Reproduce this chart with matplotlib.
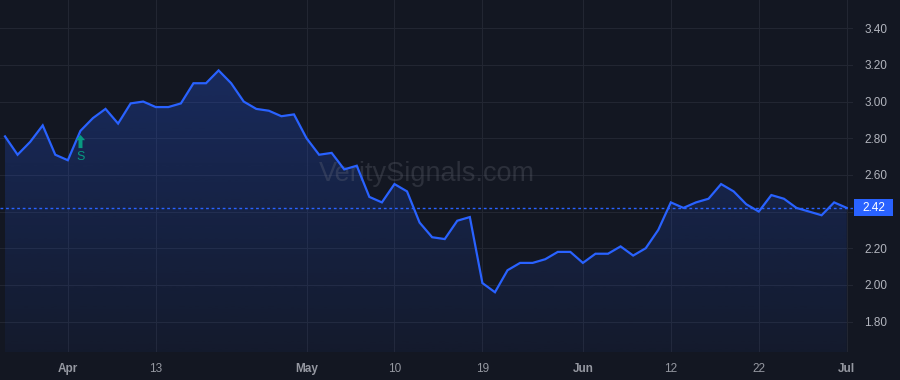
import matplotlib

matplotlib.use("Agg")
import matplotlib.pyplot as plt
import numpy as np
from matplotlib.patches import Polygon, Rectangle
from matplotlib.path import Path
from matplotlib.transforms import blended_transform_factory

BG = "#131722"
GRID = "#222632"
LINE = "#2962ff"
TEXT = "#b2b5be"
SIGNAL = "#089981"

prices = [2.81, 2.71, 2.78, 2.87, 2.71, 2.68, 2.84, 2.91, 2.96, 2.88,
          2.99, 3.00, 2.97, 2.97, 2.99, 3.10, 3.10, 3.17, 3.10, 3.00,
          2.96, 2.95, 2.92, 2.93, 2.80, 2.71, 2.72, 2.63, 2.65, 2.48,
          2.45, 2.55, 2.51, 2.34, 2.26, 2.25, 2.35, 2.37, 2.01, 1.96,
          2.08, 2.12, 2.12, 2.14, 2.18, 2.18, 2.12, 2.17, 2.17, 2.21,
          2.16, 2.20, 2.30, 2.45, 2.42, 2.45, 2.47, 2.55, 2.51, 2.44,
          2.40, 2.49, 2.47, 2.42, 2.40, 2.38, 2.45, 2.42]
tick_bars = [5, 12, 24, 31, 38, 46, 53, 60, 67]
tick_labels = ["Apr", "13", "May", "10", "19", "Jun", "12", "22", "Jul"]
month_labels = {"Apr", "May", "Jun", "Jul"}
price_ticks = [1.80, 2.00, 2.20, 2.40, 2.60, 2.80, 3.00, 3.20, 3.40]
signal_bar = 6
last_price = prices[-1]

plt.rcParams["font.family"] = ["Liberation Sans", "DejaVu Sans"]

x = np.arange(len(prices))
y = np.array(prices)

fig = plt.figure(figsize=(9, 3.8), dpi=100, facecolor=BG)
ax = fig.add_axes([0, 28 / 380, 853 / 900, 352 / 380])
ax.set_facecolor(BG)
ymin, ymax = 1.634, 3.554
ax.set_xlim(-0.4, 67.5)
ax.set_ylim(ymin, ymax)

# gradient area under the line
grad = np.linspace(0.05, 0.32, 256).reshape(-1, 1)
cmap = matplotlib.colors.LinearSegmentedColormap.from_list(
    "fade", [(0.16, 0.38, 1.0, 0.0), (0.16, 0.38, 1.0, 1.0)])
img = ax.imshow(grad, cmap=cmap, vmin=0, vmax=1, aspect="auto",
                extent=[x[0], x[-1], ymin, ymax], origin="lower", zorder=1)
poly = Polygon(np.column_stack([np.r_[x[0], x, x[-1]], np.r_[ymin, y, ymin]]),
               closed=True, transform=ax.transData)
img.set_clip_path(poly)

ax.plot(x, y, color=LINE, lw=1.6, zorder=3, solid_joinstyle="miter")
ax.axhline(last_price, color=LINE, lw=1, ls=(0, (2, 2)), zorder=2.5)

# grid
for p in price_ticks:
    ax.axhline(p, color=GRID, lw=0.8, zorder=0)
for b in tick_bars:
    ax.axvline(b, color=GRID, lw=0.8, zorder=0)

for s in ax.spines.values():
    s.set_visible(False)

ax.set_xticks(tick_bars)
ax.set_xticklabels(tick_labels)
for lab in ax.get_xticklabels():
    lab.set_color("#9598a1")
    lab.set_fontsize(8.5)
    if lab.get_text() in month_labels:
        lab.set_fontweight("bold")
ax.tick_params(axis="x", length=0, pad=8)

ax.yaxis.tick_right()
ax.set_yticks(price_ticks)
ax.set_yticklabels(["" if abs(p - last_price) < 0.05 else f"{p:.2f}" for p in price_ticks],
                   color=TEXT, fontsize=8.5)
ax.tick_params(axis="y", length=0, pad=8)

# last price badge
tr = blended_transform_factory(fig.transFigure, ax.transData)
ax.add_patch(Rectangle((854 / 900, last_price - 0.046), 39 / 900, 0.092, transform=tr,
                       fc=LINE, ec="none", clip_on=False, zorder=10))
ax.text(873.5 / 900, last_price, f"{last_price:.2f}", transform=tr, ha="center",
        va="center", color="white", fontsize=8.5, zorder=11, clip_on=False)

# signal marker: small up arrow with "S" below
arrow = Path([(-0.35, 0.1), (0, 0.5), (0.35, 0.1), (0.15, 0.1), (0.15, -0.5),
              (-0.15, -0.5), (-0.15, 0.1), (-0.35, 0.1)], closed=True)
ax.plot([signal_bar], [prices[signal_bar] - 0.055], marker=arrow, ms=9.5,
        color=SIGNAL, mec="none", zorder=5, ls="none")
ax.annotate("S", xy=(signal_bar, prices[signal_bar]), xytext=(0, -18.5),
            textcoords="offset points", ha="center", va="center",
            color=SIGNAL, fontsize=9, zorder=5)

# watermark
ax.text(0.5, 0.505, "VeritySignals.com", transform=ax.transAxes, ha="center", va="center",
        fontsize=19.5, color="#787b86", alpha=0.25, zorder=2)

fig.savefig("out.png", dpi=100, facecolor=BG)
